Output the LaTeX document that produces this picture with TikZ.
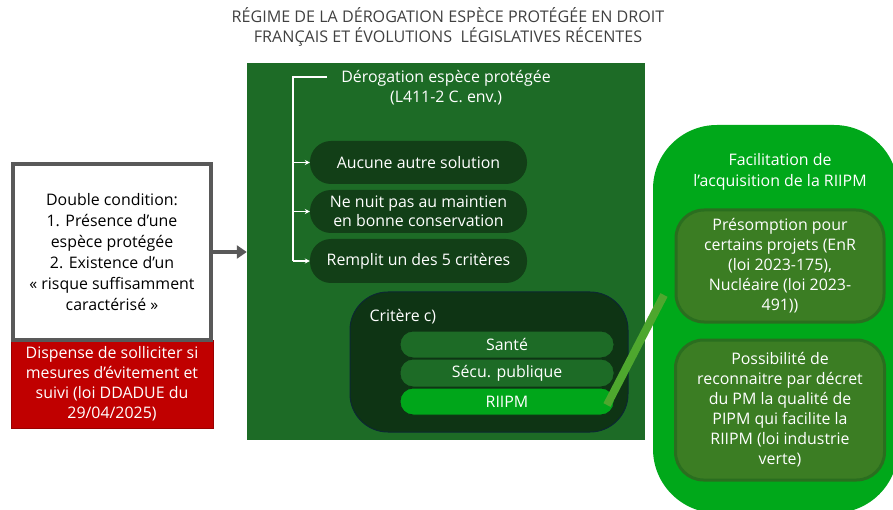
\documentclass[tikz,border=0pt]{standalone}
\usepackage{fontspec}
\setmainfont{Open Sans}
\usetikzlibrary{arrows.meta}
\definecolor{bggreen}{RGB}{29,107,38}
\definecolor{pillgreen}{RGB}{18,63,23}
\definecolor{critgreen}{RGB}{14,52,20}
\definecolor{critborder}{RGB}{12,40,50}
\definecolor{brightgreen}{RGB}{0,168,26}
\definecolor{riipm}{RGB}{0,166,26}
\definecolor{linkgreen}{RGB}{78,167,46}
\definecolor{olive}{RGB}{59,125,35}
\definecolor{oliveborder}{RGB}{42,110,31}
\definecolor{grayb}{RGB}{89,89,89}
\definecolor{redb}{RGB}{192,0,0}
\definecolor{titlegray}{RGB}{64,64,64}
\tikzset{
  txt/.style={font=\fontsize{15.9}{21}\selectfont, align=center},
  pill/.style={rounded corners=21pt, fill=pillgreen, text=white, txt},
  subpill/.style={rounded corners=13pt, draw=critgreen, line width=1pt, text=white, txt},
  olivebox/.style={rounded corners=28pt, fill=olive, draw=oliveborder, line width=3pt, text=white, txt},
  brk/.style={white, line width=1.3pt},
  brkarrow/.style={white, line width=1.3pt, -{Stealth[length=5pt,width=5pt]}}
}
\begin{document}
\begin{tikzpicture}[x=1pt,y=-1pt]
\useasboundingbox (0,0) rectangle (893,510);
% title
\node[txt, text=titlegray, font=\fontsize{16.1}{20}\selectfont] (title) at (448,27) {RÉGIME DE LA DÉROGATION ESPÈCE PROTÉGÉE EN DROIT\\FRANÇAIS ET ÉVOLUTIONS \ LÉGISLATIVES RÉCENTES};
% left boxes
\fill[redb] (11,340) rectangle (213,428);
\node[draw=redb!80!black, line width=0.6pt, minimum width=202pt, minimum height=88pt, inner sep=0pt, txt, text=white, font=\fontsize{15.9}{20}\selectfont] (red) at (112,384) {Dispense de solliciter si\\mesures d’évitement et\\suivi (loi DDADUE du\\29/04/2025)};
\node[draw=grayb, line width=4pt, fill=white, minimum width=198pt, minimum height=176pt, inner sep=0pt, txt, text=black] (cond) at (112,252) {Double condition:\\1. Présence d’une\\espèce protégée\\2. Existence d’un\\« risque suffisamment\\caractérisé »};
% main green
\node[fill=bggreen, minimum width=398pt, minimum height=377pt, inner sep=0pt] (main) at (446,251.5) {};
\draw[grayb, line width=4pt, -{Triangle[length=10pt,width=13pt]}] (cond.east |- 0,252) -- (main.west |- 0,252);
% bracket
\node[txt, text=white, font=\fontsize{15.9}{20}\selectfont] (derog) at (446,88) {Dérogation espèce protégée\\(L411-2 C. env.)};
\coordinate (btop) at (327,77);
\coordinate (bcorner) at (293,77);
\node[pill, minimum width=217pt, minimum height=43pt, inner sep=0pt] (p1) at (418.5,162.5) {Aucune autre solution};
\node[pill, minimum width=217pt, minimum height=43pt, inner sep=0pt, font=\fontsize{15.9}{19}\selectfont] (p2) at (418.5,211.5) {Ne nuit pas au maintien\\en bonne conservation};
\node[pill, minimum width=217pt, minimum height=44pt, inner sep=0pt] (p3) at (418.5,261) {Remplit un des 5 critères};
\draw[brk] (btop) -- (bcorner) -- (bcorner |- p3.west);
\draw[brkarrow] (bcorner |- p1.west) -- (p1.west);
\draw[brkarrow] (bcorner |- p2.west) -- (p2.west);
\draw[brkarrow] (bcorner |- p3.west) -- (p3.west);
% critere c
\node[rounded corners=38pt, fill=critgreen, draw=critborder, line width=1pt, minimum width=278pt, minimum height=140pt, inner sep=0pt] (crit) at (489,362) {};
\node[txt, text=white, anchor=west] (critlbl) at (366,317) {Critère c)};
\node[subpill, fill=bggreen, minimum width=214pt, minimum height=27pt, inner sep=0pt] (sante) at (507,344.5) {Santé};
\node[subpill, fill=bggreen, minimum width=214pt, minimum height=28pt, inner sep=0pt] (secu) at (507,373) {Sécu. publique};
\node[subpill, fill=riipm, minimum width=214pt, minimum height=27pt, inner sep=0pt] (riipm) at (507,401.5) {RIIPM};
% right
\fill[brightgreen, rounded corners=64pt] (653,125) rectangle (898,513);
\node[txt, text=white] (facil) at (780,172) {Facilitation de\\l’acquisition de la RIIPM};
\node[olivebox, minimum width=208pt, minimum height=112pt, inner sep=0pt, font=\fontsize{15.9}{20}\selectfont] (pres) at (780,266) {Présomption pour\\certains projets (EnR\\(loi 2023-175),\\Nucléaire (loi 2023-\\491))};
\node[olivebox, minimum width=209pt, minimum height=140pt, inner sep=0pt, font=\fontsize{15.9}{20}\selectfont] (poss) at (780,410) {Possibilité de\\reconnaitre par décret\\du PM la qualité de\\PIPM qui facilite la\\RIIPM (loi industrie\\verte)};
% connector
\coordinate (l1) at (607,405);
\coordinate (l2) at (664,295);
\draw[linkgreen, line width=8pt] (l1) -- (l2);
\end{tikzpicture}
\end{document}
